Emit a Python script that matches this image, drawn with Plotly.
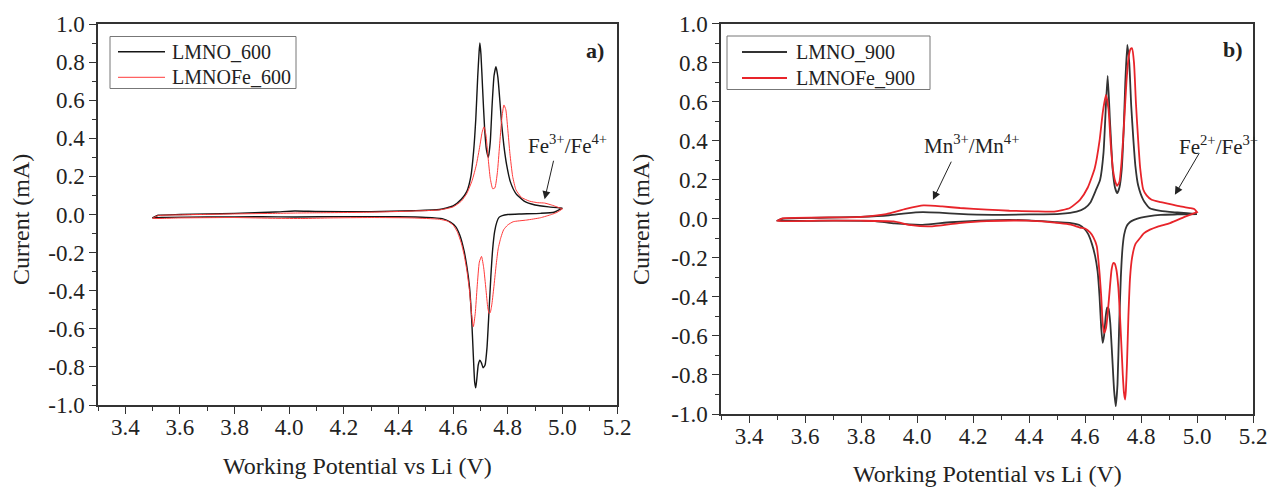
import plotly.graph_objects as go

# ---- cyclic voltammetry data: anodic (forward) and cathodic (reverse) sweeps ----
# Panel a) samples calcined at 600 C
a_lmno_fwd_v = [3.50, 3.52, 3.60, 3.80, 3.95, 4.02, 4.10, 4.30, 4.45, 4.55, 4.60, 4.63, 4.65, 4.665, 4.675,
                4.683, 4.690, 4.695, 4.698, 4.702, 4.708, 4.715, 4.722, 4.729, 4.736, 4.743, 4.750, 4.757,
                4.764, 4.771, 4.778, 4.786, 4.796, 4.81, 4.83, 4.86, 4.90, 4.95, 5.00]
a_lmno_fwd_i = [-0.017, -0.004, 0.0, 0.006, 0.013, 0.018, 0.016, 0.015, 0.02, 0.026, 0.045, 0.08, 0.12, 0.2,
                0.33, 0.5, 0.72, 0.85, 0.90, 0.84, 0.66, 0.46, 0.34, 0.30, 0.38, 0.58, 0.73, 0.776, 0.72,
                0.60, 0.47, 0.36, 0.26, 0.17, 0.11, 0.07, 0.05, 0.04, 0.033]
a_lmno_rev_v = [5.00, 4.97, 4.92, 4.85, 4.80, 4.78, 4.768, 4.760, 4.752, 4.745, 4.738, 4.731, 4.724, 4.717,
                4.710, 4.704, 4.698, 4.692, 4.687, 4.683, 4.679, 4.674, 4.668, 4.660, 4.650, 4.640, 4.625,
                4.61, 4.59, 4.56, 4.50, 4.40, 4.20, 4.02, 3.90, 3.70, 3.55, 3.50]
a_lmno_rev_i = [0.033, 0.012, 0.006, 0.003, 0.0, -0.006, -0.015, -0.04, -0.09, -0.18, -0.33, -0.52, -0.70,
                -0.79, -0.805, -0.78, -0.765, -0.79, -0.86, -0.91, -0.88, -0.74, -0.55, -0.38, -0.27, -0.19,
                -0.11, -0.065, -0.04, -0.022, -0.015, -0.012, -0.011, -0.013, -0.012, -0.013, -0.015, -0.017]

a_fe_fwd_v = [3.50, 3.52, 3.60, 3.80, 3.95, 4.03, 4.10, 4.30, 4.45, 4.55, 4.60, 4.63, 4.65, 4.67, 4.685,
              4.698, 4.706, 4.713, 4.720, 4.728, 4.736, 4.745, 4.753, 4.762, 4.770, 4.778, 4.786, 4.793,
              4.800, 4.808, 4.818, 4.83, 4.85, 4.88, 4.91, 4.935, 4.96, 4.98, 5.00]
a_fe_fwd_i = [-0.02, -0.006, -0.002, 0.003, 0.006, 0.008, 0.009, 0.012, 0.018, 0.024, 0.04, 0.07, 0.11,
              0.18, 0.26, 0.36, 0.43, 0.46, 0.42, 0.30, 0.19, 0.135, 0.14, 0.22, 0.36, 0.50, 0.575, 0.55,
              0.45, 0.32, 0.20, 0.13, 0.09, 0.07, 0.062, 0.06, 0.05, 0.04, 0.029]
a_fe_rev_v = [5.00, 4.98, 4.96, 4.92, 4.87, 4.82, 4.80, 4.785, 4.775, 4.765, 4.758, 4.750, 4.742, 4.736,
              4.732, 4.727, 4.720, 4.712, 4.704, 4.696, 4.688, 4.681, 4.674, 4.668, 4.660, 4.650, 4.640,
              4.630, 4.615, 4.60, 4.58, 4.55, 4.45, 4.30, 4.15, 4.05, 3.95, 3.80, 3.60, 3.50]
a_fe_rev_i = [0.029, 0.011, 0.0, -0.017, -0.029, -0.038, -0.055, -0.08, -0.12, -0.18, -0.26, -0.37, -0.47,
              -0.515, -0.52, -0.49, -0.39, -0.28, -0.22, -0.25, -0.38, -0.52, -0.589, -0.53, -0.40, -0.29,
              -0.21, -0.15, -0.09, -0.055, -0.035, -0.025, -0.018, -0.016, -0.018, -0.021, -0.02, -0.016,
              -0.018, -0.02]

# Panel b) samples calcined at 900 C
b_lmno_fwd_v = [3.50, 3.52, 3.65, 3.80, 3.90, 3.96, 4.02, 4.08, 4.15, 4.27, 4.40, 4.51, 4.57, 4.60, 4.62,
                4.64, 4.654, 4.666, 4.675, 4.681, 4.689, 4.699, 4.707, 4.715, 4.723, 4.731, 4.738, 4.744,
                4.751, 4.758, 4.765, 4.773, 4.78, 4.79, 4.808, 4.83, 4.87, 4.93, 5.00]
b_lmno_fwd_i = [-0.01, 0.0, 0.005, 0.01, 0.018, 0.028, 0.034, 0.031, 0.025, 0.02, 0.022, 0.025, 0.036,
                0.055, 0.085, 0.15, 0.2, 0.336, 0.59, 0.731, 0.506, 0.25, 0.16, 0.131, 0.16, 0.25, 0.45,
                0.70, 0.89, 0.80, 0.58, 0.40, 0.27, 0.17, 0.097, 0.055, 0.04, 0.032, 0.024]
b_lmno_rev_v = [5.00, 4.93, 4.87, 4.80, 4.775, 4.760, 4.748, 4.740, 4.734, 4.728, 4.722, 4.716, 4.710,
                4.704, 4.697, 4.690, 4.684, 4.679, 4.674, 4.668, 4.663, 4.658, 4.652, 4.645, 4.636, 4.625,
                4.612, 4.60, 4.58, 4.55, 4.50, 4.40, 4.25, 4.12, 4.02, 3.92, 3.85, 3.70, 3.55, 3.50]
b_lmno_rev_i = [0.024, 0.022, 0.02, 0.006, -0.006, -0.018, -0.04, -0.08, -0.15, -0.30, -0.55, -0.85, -0.96,
                -0.88, -0.70, -0.53, -0.46, -0.455, -0.50, -0.60, -0.636, -0.56, -0.40, -0.27, -0.19, -0.13,
                -0.08, -0.055, -0.032, -0.022, -0.018, -0.008, -0.008, -0.018, -0.031, -0.024, -0.012,
                -0.01, -0.011, -0.01]

b_fe_fwd_v = [3.50, 3.52, 3.65, 3.80, 3.89, 3.96, 4.023, 4.09, 4.154, 4.25, 4.33, 4.42, 4.49, 4.546, 4.582,
              4.61, 4.635, 4.652, 4.664, 4.675, 4.684, 4.692, 4.700, 4.708, 4.715, 4.723, 4.731, 4.740,
              4.748, 4.756, 4.763, 4.768, 4.775, 4.782, 4.790, 4.797, 4.808, 4.82, 4.838, 4.87, 4.90, 4.94,
              4.975, 4.99, 5.00]
b_fe_fwd_i = [-0.012, 0.002, 0.006, 0.01, 0.024, 0.05, 0.068, 0.063, 0.055, 0.047, 0.041, 0.038, 0.037,
              0.055, 0.097, 0.16, 0.26, 0.40, 0.55, 0.634, 0.56, 0.38, 0.25, 0.19, 0.169, 0.19, 0.30, 0.50,
              0.70, 0.83, 0.87, 0.873, 0.80, 0.59, 0.40, 0.26, 0.15, 0.12, 0.097, 0.085, 0.076, 0.063, 0.055,
              0.05, 0.034]
b_fe_rev_v = [5.00, 4.96, 4.904, 4.86, 4.832, 4.81, 4.796, 4.78, 4.768, 4.761, 4.755, 4.750, 4.746, 4.743,
              4.739, 4.735, 4.731, 4.725, 4.719, 4.712, 4.706, 4.701, 4.695, 4.689, 4.682, 4.675, 4.668,
              4.663, 4.658, 4.652, 4.642, 4.630, 4.618, 4.60, 4.582, 4.55, 4.51, 4.39, 4.25, 4.15, 4.046,
              3.98, 3.916, 3.80, 3.65, 3.50]
b_fe_rev_i = [0.034, 0.012, -0.022, -0.04, -0.056, -0.075, -0.10, -0.13, -0.20, -0.30, -0.50, -0.74, -0.88,
              -0.926, -0.89, -0.80, -0.68, -0.50, -0.35, -0.26, -0.23, -0.227, -0.26, -0.35, -0.47, -0.56,
              -0.585, -0.53, -0.40, -0.28, -0.14, -0.095, -0.07, -0.05, -0.045, -0.03, -0.022, -0.01, -0.012,
              -0.022, -0.039, -0.033, -0.014, -0.01, -0.01, -0.012]

x_tick_vals = [3.4, 3.6, 3.8, 4.0, 4.2, 4.4, 4.6, 4.8, 5.0, 5.2]
y_tick_vals = [1.0, 0.8, 0.6, 0.4, 0.2, 0.0, -0.2, -0.4, -0.6, -0.8, -1.0]

FONT = "Liberation Serif"
TXT = "#222222"
W, H = 1274, 488

fig = go.Figure()

series = [
    ("LMNO_600", a_lmno_fwd_v + a_lmno_rev_v, a_lmno_fwd_i + a_lmno_rev_i, "#151515", 1.4, "x", "y"),
    ("LMNOFe_600", a_fe_fwd_v + a_fe_rev_v, a_fe_fwd_i + a_fe_rev_i, "#ff3b3b", 1.0, "x", "y"),
    ("LMNO_900", b_lmno_fwd_v + b_lmno_rev_v, b_lmno_fwd_i + b_lmno_rev_i, "#333333", 1.8, "x2", "y2"),
    ("LMNOFe_900", b_fe_fwd_v + b_fe_rev_v, b_fe_fwd_i + b_fe_rev_i, "#e8242a", 1.8, "x2", "y2"),
]
for name, xs, ys, color, width, xa, ya in series:
    fig.add_trace(go.Scatter(
        x=xs, y=ys, mode="lines", name=name, xaxis=xa, yaxis=ya, showlegend=False,
        line=dict(color=color, width=width, shape="spline", smoothing=0.5),
    ))

fig.update_layout(
    width=W, height=H,
    margin=dict(l=0, r=0, t=0, b=0, autoexpand=False),
    paper_bgcolor="white", plot_bgcolor="white",
    font=dict(family=FONT, size=20, color=TXT),
    showlegend=False,
    xaxis=dict(domain=[98 / W, 617 / W], anchor="y"),
    yaxis=dict(domain=[83 / H, 464 / H], anchor="x"),
    xaxis2=dict(domain=[721 / W, 1253 / W], anchor="y2"),
    yaxis2=dict(domain=[74 / H, 464.5 / H], anchor="x2"),
)

common = dict(
    automargin=False,
    showline=True, linecolor="#333333", linewidth=1.5, mirror=True,
    ticks="outside", ticklen=7, tickwidth=1.2, tickcolor="#333333",
    showgrid=False, zeroline=False,
    tickfont=dict(family=FONT, size=23, color=TXT),
)
fig.update_xaxes(**common, range=[3.3, 5.2], tickmode="array", tickvals=x_tick_vals,
                 ticktext=[f"{v:.1f}" for v in x_tick_vals], ticklabelstandoff=-6,
                 minor=dict(dtick=0.1, tick0=3.3, ticks="outside", ticklen=4, tickcolor="#333333", showgrid=False))
fig.update_yaxes(**common, range=[-1.0, 1.0], tickmode="array", tickvals=y_tick_vals,
                 ticktext=[f"{v:.1f}" for v in y_tick_vals],
                 minor=dict(dtick=0.1, tick0=0, ticks="outside", ticklen=4, tickcolor="#333333", showgrid=False))

shapes = []
annotations = []

# legends: framed box with a line sample and a label per series
legend_boxes = [
    ((110, 36.5, 296, 88.5), [(118, 165, 51.7, 170, 0), (118, 165, 77.3, 170, 1)]),
    ((727, 36, 930, 89.5), [(742, 787, 52, 794, 2), (742, 787, 78, 794, 3)]),
]
for (x0, y0, x1, y1), rows in legend_boxes:
    shapes.append(dict(type="rect", xref="paper", yref="paper", x0=x0 / W, x1=x1 / W,
                       y0=1 - y0 / H, y1=1 - y1 / H, line=dict(color="#777777", width=1),
                       fillcolor="white", layer="above"))
    for lx0, lx1, ly, tx, idx in rows:
        name, _, _, color, width, _, _ = series[idx]
        shapes.append(dict(type="line", xref="paper", yref="paper", x0=lx0 / W, x1=lx1 / W,
                           y0=1 - ly / H, y1=1 - ly / H, line=dict(color=color, width=width), layer="above"))
        annotations.append(dict(text=name, xref="paper", yref="paper", x=tx / W, y=1 - ly / H,
                                xanchor="left", yanchor="middle", showarrow=False,
                                font=dict(family=FONT, size=20, color=TXT)))

# axis titles
for xc, yc in [(357, 466), (987, 474)]:
    annotations.append(dict(text="Working Potential vs Li (V)", xref="paper", yref="paper",
                            x=xc / W, y=1 - yc / H, xanchor="center", yanchor="middle", showarrow=False,
                            font=dict(family=FONT, size=24, color=TXT)))
for xc in [21, 641]:
    annotations.append(dict(text="Current (mA)", xref="paper", yref="paper", textangle=-90,
                            x=xc / W, y=1 - 220 / H, xanchor="center", yanchor="middle", showarrow=False,
                            font=dict(family=FONT, size=24, color=TXT)))
# panel letters
annotations.append(dict(text="<b>a)</b>", xref="x", yref="y", x=5.119, y=0.86, showarrow=False,
                        xanchor="center", yanchor="middle", font=dict(family=FONT, size=22, color=TXT)))
annotations.append(dict(text="<b>b)</b>", xref="x2", yref="y2", x=5.129, y=0.865, showarrow=False,
                        xanchor="center", yanchor="middle", font=dict(family=FONT, size=22, color=TXT)))
# redox couple labels with arrows
labels = [
    ("Fe<sup>3+</sup>/Fe<sup>4+</sup>", "x", "y", 5.017, 0.365, 4.969, 0.29, 4.935, 0.08),
    ("Fe<sup>2+</sup>/Fe<sup>3+</sup>", "x2", "y2", 5.075, 0.373, 5.011, 0.343, 4.921, 0.123),
    ("Mn<sup>3+</sup>/Mn<sup>4+</sup>", "x2", "y2", 4.196, 0.378, 4.125, 0.30, 4.057, 0.097),
]
for text, xa, ya, tx, ty, x0, y0, x1, y1 in labels:
    annotations.append(dict(text=text, xref=xa, yref=ya, x=tx, y=ty, showarrow=False,
                            xanchor="center", yanchor="middle", font=dict(family=FONT, size=21, color=TXT)))
    annotations.append(dict(text="", xref=xa, yref=ya, x=x1, y=y1, axref=xa, ayref=ya, ax=x0, ay=y0,
                            showarrow=True, arrowhead=2, arrowsize=1.6, arrowwidth=1, arrowcolor="#222222"))

fig.update_layout(shapes=shapes, annotations=annotations)

fig.write_html("out.html")
